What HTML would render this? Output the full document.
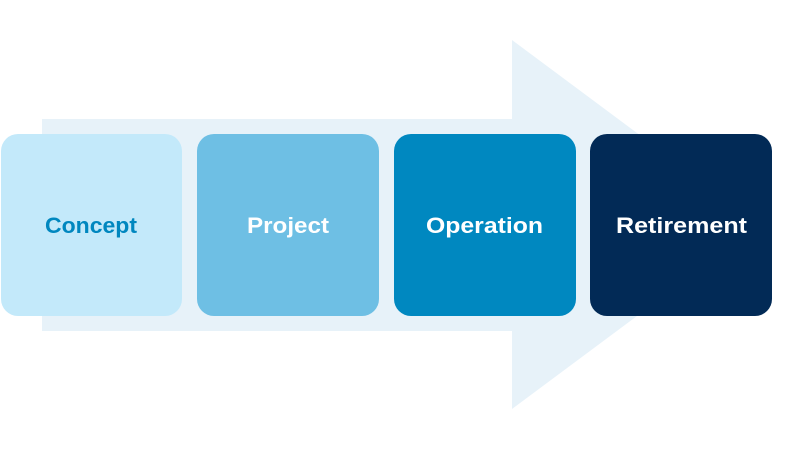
<!DOCTYPE html>
<html>
<head>
<meta charset="utf-8">
<style>
  html,body{margin:0;padding:0;background:#ffffff;}
  svg{display:block;}
  text{font-family:"Liberation Sans",sans-serif;font-weight:bold;font-size:22.5px;}
</style>
</head>
<body>
<svg width="800" height="450" viewBox="0 0 800 450" xmlns="http://www.w3.org/2000/svg">
  <rect width="800" height="450" fill="#ffffff"/>
  <polygon points="42,119 512,119 512,40 760,224.5 512,409 512,331 42,331" fill="#e7f2f9"/>
  <rect x="1" y="134" width="181" height="182" rx="17" ry="17" fill="#c3e9fa"/>
  <rect x="197" y="134" width="182" height="182" rx="17" ry="17" fill="#6ebfe4"/>
  <rect x="394" y="134" width="182" height="182" rx="17" ry="17" fill="#0088c0"/>
  <rect x="590" y="134" width="182" height="182" rx="17" ry="17" fill="#022a56"/>
  <text x="45" y="233" fill="#0087bf" textLength="92" lengthAdjust="spacingAndGlyphs">Concept</text>
  <text x="247" y="233" fill="#ffffff" textLength="82" lengthAdjust="spacingAndGlyphs">Project</text>
  <text x="426" y="233" fill="#ffffff" textLength="117" lengthAdjust="spacingAndGlyphs">Operation</text>
  <text x="616" y="233" fill="#ffffff" textLength="131" lengthAdjust="spacingAndGlyphs">Retirement</text>
</svg>
</body>
</html>
